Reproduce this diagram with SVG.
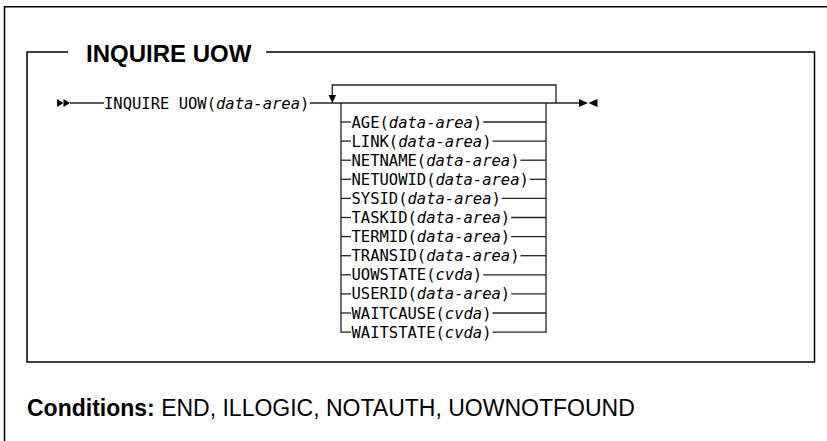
<svg xmlns="http://www.w3.org/2000/svg" width="827" height="441" viewBox="0 0 827 441">
<style>
.frame{fill:none;stroke:#000;stroke-width:1.5}
.ln{fill:none;stroke:#222;stroke-width:1.3}
.ah{fill:#000;stroke:none}
.mono{font-family:"DejaVu Sans Mono","Liberation Mono",monospace;font-size:15.5px;fill:#000}
.it{font-style:italic}
.title{font-family:"Liberation Sans",Arial,sans-serif;font-weight:bold;font-size:24px;fill:#000}
.cond{font-family:"Liberation Sans",Arial,sans-serif;font-size:23px;fill:#000}
</style>
<rect width="827" height="441" fill="#fff"/>
<g id="frame">
<polyline class="frame" points="4.5,441 4.5,6.75 827,6.75"/>
<polyline class="frame" points="68,52 27,52 27,362 814.5,362 814.5,52 266,52"/>
</g>
<g id="title"><text class="title" x="86" y="62">INQUIRE UOW</text></g>
<g id="connectors">
<line class="ln" x1="70" y1="103" x2="104" y2="103"/>
<line class="ln" x1="310" y1="103" x2="579" y2="103"/>
<polyline class="ln" points="556,103 556,85 332.3,85 332.3,96"/>
<polygon class="ah" points="328.5,95 336.1,95 332.3,103"/>
<polyline class="ln" points="341,103 341,332.1 351,332.1"/>
<polyline class="ln" points="546,103 546,332.1 492.5,332.1"/>
<line class="ln" x1="341" y1="122" x2="351" y2="122"/><line class="ln" x1="483.2" y1="122" x2="546" y2="122"/>
<line class="ln" x1="341" y1="141.1" x2="351" y2="141.1"/><line class="ln" x1="492.5" y1="141.1" x2="546" y2="141.1"/>
<line class="ln" x1="341" y1="160.2" x2="351" y2="160.2"/><line class="ln" x1="520.5" y1="160.2" x2="546" y2="160.2"/>
<line class="ln" x1="341" y1="179.3" x2="351" y2="179.3"/><line class="ln" x1="529.8" y1="179.3" x2="546" y2="179.3"/>
<line class="ln" x1="341" y1="198.4" x2="351" y2="198.4"/><line class="ln" x1="501.8" y1="198.4" x2="546" y2="198.4"/>
<line class="ln" x1="341" y1="217.5" x2="351" y2="217.5"/><line class="ln" x1="511.2" y1="217.5" x2="546" y2="217.5"/>
<line class="ln" x1="341" y1="236.6" x2="351" y2="236.6"/><line class="ln" x1="511.2" y1="236.6" x2="546" y2="236.6"/>
<line class="ln" x1="341" y1="255.7" x2="351" y2="255.7"/><line class="ln" x1="520.5" y1="255.7" x2="546" y2="255.7"/>
<line class="ln" x1="341" y1="274.8" x2="351" y2="274.8"/><line class="ln" x1="483.2" y1="274.8" x2="546" y2="274.8"/>
<line class="ln" x1="341" y1="293.9" x2="351" y2="293.9"/><line class="ln" x1="511.2" y1="293.9" x2="546" y2="293.9"/>
<line class="ln" x1="341" y1="313" x2="351" y2="313"/><line class="ln" x1="492.5" y1="313" x2="546" y2="313"/>
</g>
<g id="start">
<polygon class="ah" points="57,99 57,107 63.5,103"/>
<polygon class="ah" points="63.5,99 63.5,107 70,103"/>
</g>
<g id="command"><text class="mono" x="104" y="108.5">INQUIRE UOW(<tspan class="it">data-area</tspan>)</text></g>
<g id="opt-age"><text class="mono" x="351.5" y="127.5">AGE(<tspan class="it">data-area</tspan>)</text></g>
<g id="opt-link"><text class="mono" x="351.5" y="146.6">LINK(<tspan class="it">data-area</tspan>)</text></g>
<g id="opt-netname"><text class="mono" x="351.5" y="165.7">NETNAME(<tspan class="it">data-area</tspan>)</text></g>
<g id="opt-netuowid"><text class="mono" x="351.5" y="184.8">NETUOWID(<tspan class="it">data-area</tspan>)</text></g>
<g id="opt-sysid"><text class="mono" x="351.5" y="203.9">SYSID(<tspan class="it">data-area</tspan>)</text></g>
<g id="opt-taskid"><text class="mono" x="351.5" y="223">TASKID(<tspan class="it">data-area</tspan>)</text></g>
<g id="opt-termid"><text class="mono" x="351.5" y="242.1">TERMID(<tspan class="it">data-area</tspan>)</text></g>
<g id="opt-transid"><text class="mono" x="351.5" y="261.2">TRANSID(<tspan class="it">data-area</tspan>)</text></g>
<g id="opt-uowstate"><text class="mono" x="351.5" y="280.3">UOWSTATE(<tspan class="it">cvda</tspan>)</text></g>
<g id="opt-userid"><text class="mono" x="351.5" y="299.4">USERID(<tspan class="it">data-area</tspan>)</text></g>
<g id="opt-waitcause"><text class="mono" x="351.5" y="318.5">WAITCAUSE(<tspan class="it">cvda</tspan>)</text></g>
<g id="opt-waitstate"><text class="mono" x="351.5" y="337.6">WAITSTATE(<tspan class="it">cvda</tspan>)</text></g>
<g id="end">
<polygon class="ah" points="579,99 579,107 588,103"/>
<polygon class="ah" points="597.5,99 597.5,107 588.5,103"/>
</g>
<g id="conditions"><text class="cond" x="27" y="416"><tspan font-weight="bold">Conditions:</tspan> END, ILLOGIC, NOTAUTH, UOWNOTFOUND</text></g>
</svg>
